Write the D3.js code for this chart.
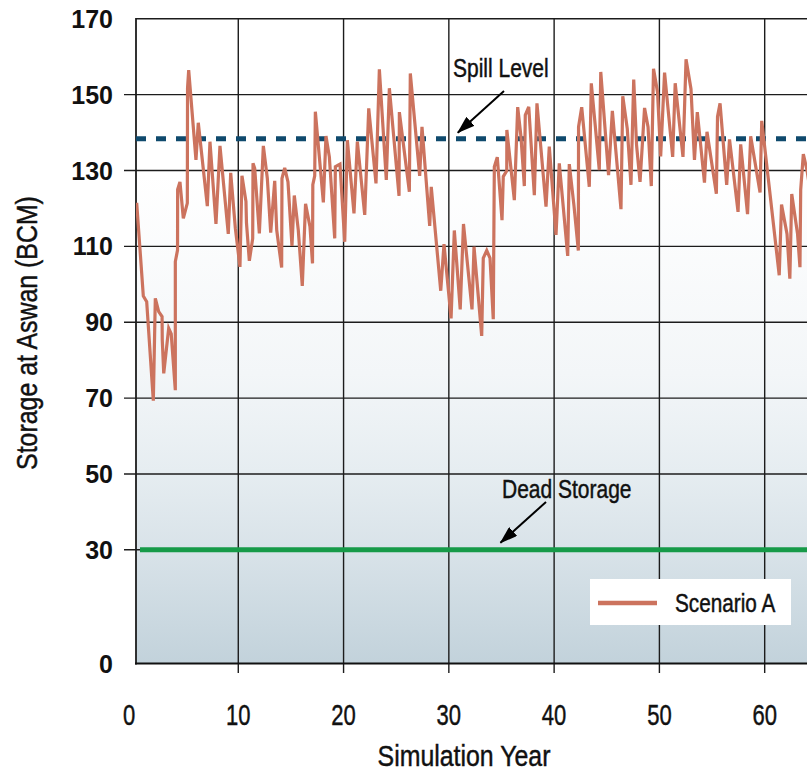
<!DOCTYPE html>
<html>
<head>
<meta charset="utf-8">
<script src="https://cdn.jsdelivr.net/npm/d3@7"></script>
<style>
html, body { margin: 0; padding: 0; background: #ffffff; }
svg { display: block; }
.cond { font-family: "Liberation Sans", Arial, Helvetica, sans-serif; stroke: #111; stroke-width: 0.45px; }
.boldnum { font-family: "Liberation Sans", Arial, sans-serif; font-weight: bold; }
</style>
</head>
<body>
<svg id="chart" width="807" height="775"></svg>
<script>
// Simulated storage at Aswan, Scenario A (simulation year, BCM)
const years = [
  0.35, 0.98, 1.30, 1.93, 2.12, 2.44, 2.76, 2.78, 2.92, 3.39,
  3.63, 4.02, 4.02, 4.23, 4.24, 4.46, 4.78, 5.16, 5.18, 5.29,
  5.98, 6.20, 7.06, 7.31, 7.88, 8.26, 9.05, 9.28, 9.72, 10.16,
  10.35, 10.73, 10.78, 11.05, 11.37, 11.40, 11.56, 12.00, 12.38, 12.76,
  13.08, 13.46, 13.65, 14.12, 14.15, 14.41, 14.72, 15.10, 15.32, 15.70,
  16.08, 16.39, 16.81, 17.05, 17.08, 17.26, 17.32, 18.08, 18.33, 18.65,
  19.16, 19.22, 19.66, 20.11, 20.36, 20.99, 21.31, 22.01, 22.39, 23.08,
  23.40, 24.06, 24.35, 25.27, 25.30, 26.25, 26.34, 27.23, 27.45, 28.18,
  28.33, 29.23, 29.54, 30.21, 30.52, 31.08, 31.39, 32.20, 32.39, 33.12,
  33.27, 33.60, 33.91, 34.22, 34.32, 34.60, 35.05, 35.17, 35.50, 35.51,
  36.22, 36.54, 36.85, 37.17, 37.26, 37.59, 38.12, 38.37, 39.23, 39.54,
  40.18, 40.49, 41.29, 41.44, 41.89, 42.30, 42.32, 42.62, 43.34, 43.53,
  43.91, 44.29, 44.43, 45.17, 45.53, 46.35, 46.52, 46.95, 47.30, 47.56,
  47.83, 48.16, 48.59, 48.92, 49.23, 49.44, 49.82, 50.12, 50.49, 51.26,
  51.50, 52.24, 52.53, 53.00, 53.33, 53.60, 54.28, 54.52, 55.41, 55.52,
  55.76, 56.39, 56.66, 57.47, 57.72, 58.37, 58.67, 59.56, 59.72, 61.38,
  61.60, 62.12, 62.39, 62.57, 63.12, 63.35, 63.42, 63.67, 64.02, 64.30
];
const storage = [
  121.5, 96.9, 95.4, 69.3, 96.3, 92.8, 91.5, 85.3, 76.5, 88.4,
  86.9, 72.1, 106.0, 109.0, 125.0, 127.0, 117.4, 121.4, 151.7, 156.5,
  132.8, 142.6, 120.6, 137.6, 115.9, 136.5, 113.3, 129.4, 114.8, 104.6,
  128.6, 121.8, 116.1, 106.2, 112.1, 131.9, 130.6, 113.4, 136.5, 127.9,
  113.6, 127.3, 114.3, 104.4, 127.9, 130.7, 127.0, 110.1, 123.4, 114.3,
  99.6, 121.2, 115.2, 105.5, 126.3, 128.6, 145.5, 121.6, 139.1, 133.6,
  112.1, 131.0, 131.7, 111.2, 138.0, 118.7, 137.6, 118.3, 146.4, 126.6,
  156.7, 127.5, 151.7, 123.3, 145.4, 124.4, 155.6, 128.6, 141.5, 115.4,
  125.7, 98.3, 110.6, 91.0, 114.2, 93.4, 115.9, 93.4, 109.9, 86.4,
  106.9, 108.9, 106.9, 90.8, 131.0, 133.5, 116.9, 128.4, 129.9, 140.7,
  122.2, 146.7, 138.9, 125.9, 144.6, 146.8, 123.5, 147.7, 120.5, 136.3,
  113.0, 131.9, 107.5, 131.7, 120.6, 108.9, 141.5, 146.7, 125.7, 153.0,
  141.7, 130.1, 156.0, 128.8, 145.7, 119.8, 149.6, 141.0, 126.2, 154.0,
  136.7, 127.0, 146.5, 141.5, 125.9, 156.8, 150.7, 133.7, 155.8, 133.6,
  153.0, 133.6, 159.3, 151.5, 132.8, 145.4, 126.8, 140.2, 123.9, 144.2,
  147.7, 126.2, 138.2, 119.1, 136.9, 118.5, 139.0, 124.2, 143.1, 102.4,
  121.0, 113.3, 101.5, 123.8, 113.3, 104.5, 124.9, 134.3, 130.1, 125.0
];
const xTicks = [0, 10, 20, 30, 40, 50, 60];
const yTicks = [0, 30, 50, 70, 90, 110, 130, 150, 170];
const spillLevel = 138.4;
const deadStorage = 30;
const seriesName = "Scenario A";
const xTitle = "Simulation Year";
const yTitle = "Storage at Aswan (BCM)";

const svg = d3.select("#chart");
const plot = { left: 136, top: 19, right: 807, bottom: 664 };

const x = d3.scaleLinear().domain([0, 64]).range([133, 806.8]);
const y = d3.scaleLinear().domain([0, 170]).range([663.6, 18.8]);

// condensed lettering: horizontally squeezed sans text
function condText(parent, tx, ty, str, size, anchor, squeeze, rotate) {
  return parent.append("text")
    .attr("class", "cond")
    .attr("transform", `translate(${tx},${ty})` + (rotate ? ` rotate(${rotate})` : "") + ` scale(${squeeze},1)`)
    .attr("text-anchor", anchor || "start")
    .attr("font-size", size)
    .attr("fill", "#111")
    .text(str);
}

const defs = svg.append("defs");

// soft blue-grey wash toward the bottom of the plot
const grad = defs.append("linearGradient")
  .attr("id", "bg").attr("x1", 0).attr("y1", 0).attr("x2", 0).attr("y2", 1);
[[0, "#ffffff"], [0.24, "#ffffff"], [0.55, "#f3f6f8"], [0.70, "#e6edf1"],
 [0.82, "#d9e3e9"], [1, "#c2d2db"]].forEach(([o, c]) =>
  grad.append("stop").attr("offset", o).attr("stop-color", c));

defs.append("clipPath").attr("id", "plotClip")
  .append("rect")
  .attr("x", plot.left).attr("y", plot.top)
  .attr("width", plot.right - plot.left).attr("height", plot.bottom - plot.top);

defs.append("marker")
  .attr("id", "arrowHead")
  .attr("markerUnits", "userSpaceOnUse")
  .attr("viewBox", "0 0 18 12")
  .attr("markerWidth", 18).attr("markerHeight", 12)
  .attr("refX", 17).attr("refY", 6)
  .attr("orient", "auto")
  .append("path").attr("d", "M0,0 L18,6 L0,12 Z").attr("fill", "#000");

svg.append("rect")
  .attr("x", plot.left).attr("y", plot.top)
  .attr("width", plot.right - plot.left).attr("height", plot.bottom - plot.top)
  .attr("fill", "url(#bg)");

// grid
const grid = svg.append("g").attr("stroke", "#1c1c1c").attr("stroke-width", 1.4);
grid.selectAll("line.h")
  .data(yTicks.filter(v => v > 0 && v < 170))
  .join("line")
  .attr("x1", 124).attr("x2", plot.right)
  .attr("y1", d => y(d)).attr("y2", d => y(d));
grid.selectAll("line.v")
  .data(xTicks.filter(v => v > 0))
  .join("line")
  .attr("x1", d => x(d)).attr("x2", d => x(d))
  .attr("y1", plot.top).attr("y2", plot.bottom + 9);

// frame
svg.append("line").attr("x1", plot.left).attr("x2", plot.right)
  .attr("y1", y(170)).attr("y2", y(170)).attr("stroke", "#1c1c1c").attr("stroke-width", 1.6);
svg.append("line").attr("x1", plot.left).attr("x2", plot.left)
  .attr("y1", y(170) - 0.8).attr("y2", y(0) + 1).attr("stroke", "#1c1c1c").attr("stroke-width", 1.8);
svg.append("line").attr("x1", plot.left - 1).attr("x2", plot.right)
  .attr("y1", y(0)).attr("y2", y(0)).attr("stroke", "#111").attr("stroke-width", 2);

// reference levels
svg.append("line")
  .attr("x1", plot.left).attr("x2", plot.right)
  .attr("y1", y(spillLevel)).attr("y2", y(spillLevel))
  .attr("stroke", "#0f4a6d").attr("stroke-width", 5)
  .attr("stroke-dasharray", "10,10");
svg.append("line")
  .attr("x1", plot.left + 4).attr("x2", plot.right)
  .attr("y1", y(deadStorage)).attr("y2", y(deadStorage))
  .attr("stroke", "#169a48").attr("stroke-width", 5);

// series
const line = d3.line().x((d, i) => x(years[i])).y(d => y(d));
svg.append("path")
  .datum(storage)
  .attr("clip-path", "url(#plotClip)")
  .attr("d", line)
  .attr("fill", "none")
  .attr("stroke", "#cc735e")
  .attr("stroke-width", 3.2)
  .attr("stroke-linejoin", "miter");

// axis labels
svg.append("g").attr("class", "boldnum")
  .selectAll("text").data(yTicks).join("text")
  .attr("x", 113).attr("y", d => y(d))
  .attr("dy", "0.36em")
  .attr("text-anchor", "end")
  .attr("font-size", 25)
  .attr("fill", "#111")
  .text(d => d);

const xLab = svg.append("g");
xTicks.forEach(d => condText(xLab, d === 0 ? x(d) - 4 : x(d), 725, d, 29, "middle", 0.76));

condText(svg, 464, 766, xTitle, 30, "middle", 0.83);
condText(svg, 37, 333, yTitle, 30, "middle", 0.83, -90);

// annotations
const spillTip = [x(30.85), y(spillLevel) - 6];
condText(svg, 453, 77, "Spill Level", 25, "start", 0.84);
svg.append("line")
  .attr("x1", 504).attr("y1", 91)
  .attr("x2", spillTip[0]).attr("y2", spillTip[1])
  .attr("stroke", "#000").attr("stroke-width", 2)
  .attr("marker-end", "url(#arrowHead)");

const deadTip = [x(34.9), y(deadStorage) - 7];
condText(svg, 502, 498, "Dead Storage", 25, "start", 0.84);
svg.append("line")
  .attr("x1", 546).attr("y1", 502)
  .attr("x2", deadTip[0]).attr("y2", deadTip[1])
  .attr("stroke", "#000").attr("stroke-width", 2)
  .attr("marker-end", "url(#arrowHead)");

// legend
const legend = svg.append("g");
legend.append("rect")
  .attr("x", 590).attr("y", 579).attr("width", 201).attr("height", 46)
  .attr("fill", "#ffffff");
legend.append("line")
  .attr("x1", 598).attr("x2", 657).attr("y1", 603).attr("y2", 603)
  .attr("stroke", "#cc735e").attr("stroke-width", 4.5);
condText(legend, 675, 612, seriesName, 25, "start", 0.83);
</script>
</body>
</html>
